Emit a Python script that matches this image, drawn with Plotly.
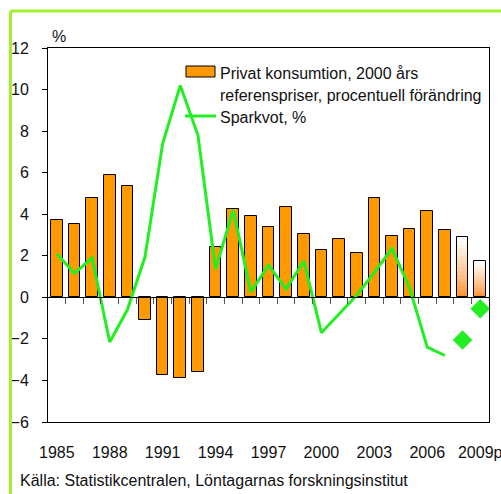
import plotly.graph_objects as go

# data
years = [1985, 1986, 1987, 1988, 1989, 1990, 1991, 1992, 1993, 1994, 1995, 1996,
         1997, 1998, 1999, 2000, 2001, 2002, 2003, 2004, 2005, 2006, 2007, 2008, 2009]
konsumtion = [3.7, 3.55, 4.8, 5.9, 5.35, -1.1, -3.75, -3.9, -3.6, 2.4, 4.25, 3.9,
              3.4, 4.35, 3.05, 2.3, 2.8, 2.15, 4.8, 2.95, 3.3, 4.15, 3.25, 2.9, 1.75]
forecast_years = [2008, 2009]

spar_years = years[:23]
sparkvot = [2.1, 1.15, 1.9, -2.15, -0.6, 1.95, 7.4, 10.2, 7.8, 1.35, 4.2, 0.25,
            1.55, 0.4, 1.75, -1.7, -0.8, 0.1, 1.2, 2.35, 0.45, -2.4, -2.8]
sparkvot_prognos = [-2.05, -0.55]

tick_years = [1985, 1988, 1991, 1994, 1997, 2000, 2003, 2006, 2009]
tick_text = ["1985", "1988", "1991", "1994", "1997", "2000", "2003", "2006", "2009p"]

legend_bar = ["Privat konsumtion, 2000 års", "referenspriser, procentuell förändring"]
legend_line = "Sparkvot, %"
source = "Källa: Statistikcentralen, Löntagarnas forskningsinstitut"

W, H = 501, 494
ML, MR, MT, MB = 48, 12, 48, 72
FONT = "Liberation Sans, Arial"
ORANGE = "#FF9900"
GREEN = "#22EE22"
BAR_W = 0.66


def px_x(p):
    return (p - ML) / (W - ML - MR)


def px_y(p):
    return (H - MB - p) / (H - MT - MB)


fig = go.Figure()

# historical bars
hist = [(y, v) for y, v in zip(years, konsumtion) if y not in forecast_years]
fig.add_trace(go.Bar(
    x=[h[0] for h in hist], y=[h[1] for h in hist], width=BAR_W,
    marker=dict(color=ORANGE, line=dict(color="black", width=1)),
))

# forecast bars: white-to-orange gradient built from stacked slices
N = 16
fc = [(y, v) for y, v in zip(years, konsumtion) if y in forecast_years]
for i in range(N):
    t = (i / (N - 1)) ** 0.8
    r, g, b = 255, int(145 + (255 - 145) * t), int(45 + (255 - 45) * t)
    fig.add_trace(go.Bar(
        x=[f[0] for f in fc], y=[f[1] / N for f in fc],
        base=[f[1] * i / N for f in fc], width=BAR_W,
        marker=dict(color=f"rgb({r},{g},{b})", line=dict(width=0)),
        hoverinfo="skip",
    ))
fig.add_trace(go.Bar(
    x=[f[0] for f in fc], y=[f[1] for f in fc], width=BAR_W,
    marker=dict(color="rgba(0,0,0,0)", line=dict(color="black", width=1)),
))

fig.add_trace(go.Scatter(
    x=spar_years, y=sparkvot, mode="lines",
    line=dict(color=GREEN, width=3),
))
fig.add_trace(go.Scatter(
    x=forecast_years, y=sparkvot_prognos, mode="markers",
    marker=dict(symbol="diamond", size=15, color=GREEN),
))

# invisible trace carrying the tick axis along the zero line
fig.add_trace(go.Scatter(x=[years[0]], y=[0], xaxis="x2", mode="markers",
                         marker=dict(opacity=0), hoverinfo="skip"))

xr = [years[0] - 0.5, years[-1] + 0.5]
fig.update_layout(
    width=W, height=H,
    margin=dict(l=ML, r=MR, t=MT, b=MB),
    paper_bgcolor="white", plot_bgcolor="white",
    barmode="overlay", bargap=0, showlegend=False,
    font=dict(family=FONT, size=16, color="#111111"),
    xaxis=dict(
        range=xr, tickvals=tick_years, ticktext=tick_text, ticks="",
        showline=True, linecolor="black", linewidth=1, mirror=True,
        showgrid=False, zeroline=False, ticklabelstandoff=16,
        ticklabeloverflow="allow", automargin=False,
    ),
    xaxis2=dict(
        range=xr, overlaying="x", anchor="free", position=6 / 18,
        tickvals=[y + 0.5 for y in years[:-1]], ticks="outside", ticklen=6,
        tickcolor="#555555", showticklabels=False, showline=True,
        linecolor="black", linewidth=1, showgrid=False, zeroline=False,
        automargin=False,
    ),
    yaxis=dict(
        range=[-6, 12], dtick=2, ticks="outside", ticklen=5, tickcolor="black",
        showline=True, linecolor="black", linewidth=1, mirror=True,
        showgrid=False, zeroline=False, ticklabelstandoff=10, automargin=False,
    ),
    shapes=[
        # outer lime frame
        dict(type="line", xref="paper", yref="paper",
             x0=px_x(10.5), x1=px_x(520), y0=px_y(11), y1=px_y(11),
             line=dict(color="#A0F030", width=3)),
        dict(type="line", xref="paper", yref="paper",
             x0=px_x(10.5), x1=px_x(10.5), y0=px_y(11), y1=px_y(520),
             line=dict(color="#A0F030", width=3)),
        # legend keys
        dict(type="rect", xref="paper", yref="paper",
             x0=px_x(186), x1=px_x(215), y0=px_y(66), y1=px_y(77),
             fillcolor=ORANGE, line=dict(color="black", width=1)),
        dict(type="line", xref="paper", yref="paper",
             x0=px_x(185), x1=px_x(216), y0=px_y(116), y1=px_y(116),
             line=dict(color=GREEN, width=3)),
    ],
    annotations=[
        dict(text="%", xref="paper", yref="paper", x=px_x(50), y=px_y(36),
             xanchor="left", yanchor="middle", showarrow=False),
        dict(text=legend_bar[0], xref="paper", yref="paper", x=px_x(218), y=px_y(73),
             xanchor="left", yanchor="middle", showarrow=False),
        dict(text=legend_bar[1], xref="paper", yref="paper", x=px_x(218), y=px_y(96),
             xanchor="left", yanchor="middle", showarrow=False),
        dict(text=legend_line, xref="paper", yref="paper", x=px_x(218), y=px_y(118),
             xanchor="left", yanchor="middle", showarrow=False),
        dict(text=source, xref="paper", yref="paper", x=px_x(18), y=px_y(480),
             xanchor="left", yanchor="middle", showarrow=False),
    ],
)

fig.write_html("out.html", config={"displayModeBar": False},
               post_script="document.body.style.margin='0';")
